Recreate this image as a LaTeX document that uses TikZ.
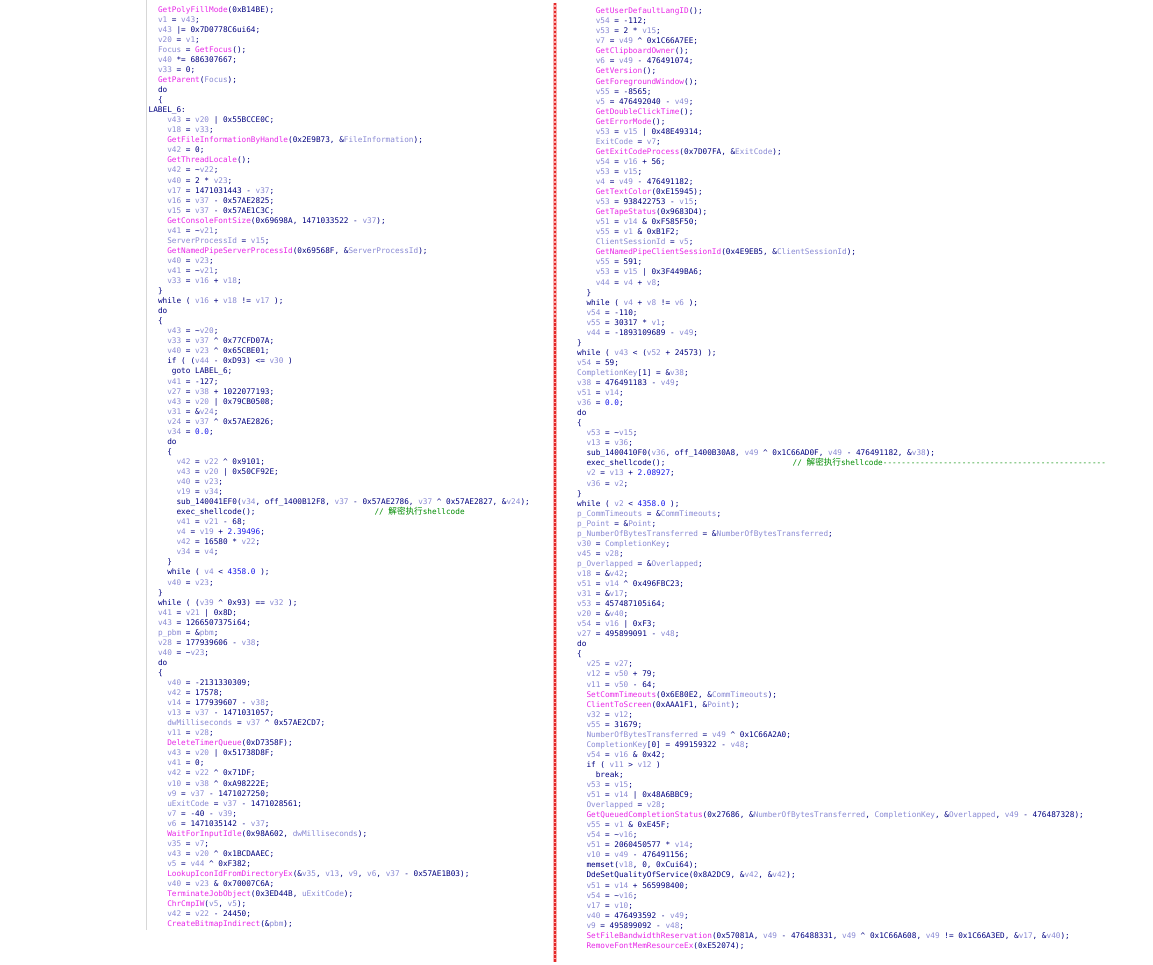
\documentclass[tikz,border=0pt]{standalone}
\usepackage{fontspec}
\setmonofont{DejaVu Sans Mono}
\newfontfamily\cjk{Noto Sans CJK SC}
\usepackage{tikz}
\definecolor{codenavy}{RGB}{0,0,128}
\definecolor{fnpink}{RGB}{232,40,232}
\definecolor{varblue}{RGB}{138,138,212}
\definecolor{fltblue}{RGB}{20,20,235}
\definecolor{cmtgreen}{RGB}{0,140,0}
\definecolor{sepink}{RGB}{250,175,175}
\definecolor{sepred}{RGB}{228,40,40}
\definecolor{bordergray}{RGB}{215,215,215}
\newcommand{\fnc}[1]{\textcolor{fnpink}{#1}}
\newcommand{\lvar}[1]{\textcolor{varblue}{#1}}
\newcommand{\flt}[1]{\textcolor{fltblue}{#1}}
\newcommand{\cmt}[1]{\textcolor{cmtgreen}{#1}}
\newcommand{\xor}{\textasciicircum}
\newcommand{\tld}{\textasciitilde}
\newcommand{\lcode}[3]{\node[codeline] (l#1) at ({148.5+#2*4.65},{10+(#1-1)*10.05}) {#3};}
\newcommand{\rcode}[3]{\node[codeline] (r#1) at ({577+#2*4.65},{11.5+(#1-1)*10.05}) {#3};}
\tikzset{codeline/.style={anchor=mid west, inner sep=0pt, text=codenavy,
  font=\ttfamily\fontsize{7.72}{10}\selectfont}}

\begin{document}
\begin{tikzpicture}[x=1pt,y=-1pt]
\useasboundingbox (0,0) rectangle (1153,965);
\fill [white] (0,0) rectangle (1153,965);
\draw [bordergray, line width=0.8] (146.5,0)--(146.5,930);
\draw [sepink, line width=4.5] (555,3)--(555,962);
\draw [sepred, line width=2, dash pattern=on 2.5 off 1.5] (555,3)--(555,962);

% left window
\lcode{1}{2}{\fnc{GetPolyFillMode}(0xB14BE);}
\lcode{2}{2}{\lvar{v1} = \lvar{v43};}
\lcode{3}{2}{\lvar{v43} |= 0x7D0778C6ui64;}
\lcode{4}{2}{\lvar{v20} = \lvar{v1};}
\lcode{5}{2}{\lvar{Focus} = \fnc{GetFocus}();}
\lcode{6}{2}{\lvar{v40} *= 686307667;}
\lcode{7}{2}{\lvar{v33} = 0;}
\lcode{8}{2}{\fnc{GetParent}(\lvar{Focus});}
\lcode{9}{2}{do}
\lcode{10}{2}{\{}
\lcode{11}{0}{LABEL\_6:}
\lcode{12}{4}{\lvar{v43} = \lvar{v20} | 0x55BCCE0C;}
\lcode{13}{4}{\lvar{v18} = \lvar{v33};}
\lcode{14}{4}{\fnc{GetFileInformationByHandle}(0x2E9B73, \&\lvar{FileInformation});}
\lcode{15}{4}{\lvar{v42} = 0;}
\lcode{16}{4}{\fnc{GetThreadLocale}();}
\lcode{17}{4}{\lvar{v42} = \tld\lvar{v22};}
\lcode{18}{4}{\lvar{v40} = 2 * \lvar{v23};}
\lcode{19}{4}{\lvar{v17} = 1471031443 - \lvar{v37};}
\lcode{20}{4}{\lvar{v16} = \lvar{v37} - 0x57AE2825;}
\lcode{21}{4}{\lvar{v15} = \lvar{v37} - 0x57AE1C3C;}
\lcode{22}{4}{\fnc{GetConsoleFontSize}(0x69698A, 1471033522 - \lvar{v37});}
\lcode{23}{4}{\lvar{v41} = \tld\lvar{v21};}
\lcode{24}{4}{\lvar{ServerProcessId} = \lvar{v15};}
\lcode{25}{4}{\fnc{GetNamedPipeServerProcessId}(0x69568F, \&\lvar{ServerProcessId});}
\lcode{26}{4}{\lvar{v40} = \lvar{v23};}
\lcode{27}{4}{\lvar{v41} = \tld\lvar{v21};}
\lcode{28}{4}{\lvar{v33} = \lvar{v16} + \lvar{v18};}
\lcode{29}{2}{\}}
\lcode{30}{2}{while ( \lvar{v16} + \lvar{v18} != \lvar{v17} );}
\lcode{31}{2}{do}
\lcode{32}{2}{\{}
\lcode{33}{4}{\lvar{v43} = \tld\lvar{v20};}
\lcode{34}{4}{\lvar{v33} = \lvar{v37} \xor{} 0x77CFD07A;}
\lcode{35}{4}{\lvar{v40} = \lvar{v23} \xor{} 0x65CBE01;}
\lcode{36}{4}{if ( (\lvar{v44} - 0xD93) <= \lvar{v30} )}
\lcode{37}{5}{goto LABEL\_6;}
\lcode{38}{4}{\lvar{v41} = -127;}
\lcode{39}{4}{\lvar{v27} = \lvar{v38} + 1022077193;}
\lcode{40}{4}{\lvar{v43} = \lvar{v20} | 0x79CB0508;}
\lcode{41}{4}{\lvar{v31} = \&\lvar{v24};}
\lcode{42}{4}{\lvar{v24} = \lvar{v37} \xor{} 0x57AE2826;}
\lcode{43}{4}{\lvar{v34} = \flt{0.0};}
\lcode{44}{4}{do}
\lcode{45}{4}{\{}
\lcode{46}{6}{\lvar{v42} = \lvar{v22} \xor{} 0x9101;}
\lcode{47}{6}{\lvar{v43} = \lvar{v20} | 0x50CF92E;}
\lcode{48}{6}{\lvar{v40} = \lvar{v23};}
\lcode{49}{6}{\lvar{v19} = \lvar{v34};}
\lcode{50}{6}{sub\_140041EF0(\lvar{v34}, off\_1400B12F8, \lvar{v37} - 0x57AE2786, \lvar{v37} \xor{} 0x57AE2827, \&\lvar{v24});}
\lcode{51}{6}{exec\_shellcode();}
\node [codeline] (lcmt) at (374.3,{10+50*10.05}) {\cmt{// {\cjk\fontsize{8.6}{10}\selectfont 解密执行}shellcode}};
\lcode{52}{6}{\lvar{v41} = \lvar{v21} - 68;}
\lcode{53}{6}{\lvar{v4} = \lvar{v19} + \flt{2.39496};}
\lcode{54}{6}{\lvar{v42} = 16580 * \lvar{v22};}
\lcode{55}{6}{\lvar{v34} = \lvar{v4};}
\lcode{56}{4}{\}}
\lcode{57}{4}{while ( \lvar{v4} < \flt{4358.0} );}
\lcode{58}{4}{\lvar{v40} = \lvar{v23};}
\lcode{59}{2}{\}}
\lcode{60}{2}{while ( (\lvar{v39} \xor{} 0x93) == \lvar{v32} );}
\lcode{61}{2}{\lvar{v41} = \lvar{v21} | 0x8D;}
\lcode{62}{2}{\lvar{v43} = 1266507375i64;}
\lcode{63}{2}{\lvar{p\_pbm} = \&\lvar{pbm};}
\lcode{64}{2}{\lvar{v28} = 177939606 - \lvar{v38};}
\lcode{65}{2}{\lvar{v40} = \tld\lvar{v23};}
\lcode{66}{2}{do}
\lcode{67}{2}{\{}
\lcode{68}{4}{\lvar{v40} = -2131330309;}
\lcode{69}{4}{\lvar{v42} = 17578;}
\lcode{70}{4}{\lvar{v14} = 177939607 - \lvar{v38};}
\lcode{71}{4}{\lvar{v13} = \lvar{v37} - 1471031057;}
\lcode{72}{4}{\lvar{dwMilliseconds} = \lvar{v37} \xor{} 0x57AE2CD7;}
\lcode{73}{4}{\lvar{v11} = \lvar{v28};}
\lcode{74}{4}{\fnc{DeleteTimerQueue}(0xD7358F);}
\lcode{75}{4}{\lvar{v43} = \lvar{v20} | 0x51738D8F;}
\lcode{76}{4}{\lvar{v41} = 0;}
\lcode{77}{4}{\lvar{v42} = \lvar{v22} \xor{} 0x71DF;}
\lcode{78}{4}{\lvar{v10} = \lvar{v38} \xor{} 0xA98222E;}
\lcode{79}{4}{\lvar{v9} = \lvar{v37} - 1471027250;}
\lcode{80}{4}{\lvar{uExitCode} = \lvar{v37} - 1471028561;}
\lcode{81}{4}{\lvar{v7} = -40 - \lvar{v39};}
\lcode{82}{4}{\lvar{v6} = 1471035142 - \lvar{v37};}
\lcode{83}{4}{\fnc{WaitForInputIdle}(0x98A602, \lvar{dwMilliseconds});}
\lcode{84}{4}{\lvar{v35} = \lvar{v7};}
\lcode{85}{4}{\lvar{v43} = \lvar{v20} \xor{} 0x1BCDAAEC;}
\lcode{86}{4}{\lvar{v5} = \lvar{v44} \xor{} 0xF382;}
\lcode{87}{4}{\fnc{LookupIconIdFromDirectoryEx}(\&\lvar{v35}, \lvar{v13}, \lvar{v9}, \lvar{v6}, \lvar{v37} - 0x57AE1B03);}
\lcode{88}{4}{\lvar{v40} = \lvar{v23} \& 0x70007C6A;}
\lcode{89}{4}{\fnc{TerminateJobObject}(0x3ED44B, \lvar{uExitCode});}
\lcode{90}{4}{\fnc{ChrCmpIW}(\lvar{v5}, \lvar{v5});}
\lcode{91}{4}{\lvar{v42} = \lvar{v22} - 24450;}
\lcode{92}{4}{\fnc{CreateBitmapIndirect}(\&\lvar{pbm});}

% right window
\rcode{1}{4}{\fnc{GetUserDefaultLangID}();}
\rcode{2}{4}{\lvar{v54} = -112;}
\rcode{3}{4}{\lvar{v53} = 2 * \lvar{v15};}
\rcode{4}{4}{\lvar{v7} = \lvar{v49} \xor{} 0x1C66A7EE;}
\rcode{5}{4}{\fnc{GetClipboardOwner}();}
\rcode{6}{4}{\lvar{v6} = \lvar{v49} - 476491074;}
\rcode{7}{4}{\fnc{GetVersion}();}
\rcode{8}{4}{\fnc{GetForegroundWindow}();}
\rcode{9}{4}{\lvar{v55} = -8565;}
\rcode{10}{4}{\lvar{v5} = 476492040 - \lvar{v49};}
\rcode{11}{4}{\fnc{GetDoubleClickTime}();}
\rcode{12}{4}{\fnc{GetErrorMode}();}
\rcode{13}{4}{\lvar{v53} = \lvar{v15} | 0x48E49314;}
\rcode{14}{4}{\lvar{ExitCode} = \lvar{v7};}
\rcode{15}{4}{\fnc{GetExitCodeProcess}(0x7D07FA, \&\lvar{ExitCode});}
\rcode{16}{4}{\lvar{v54} = \lvar{v16} + 56;}
\rcode{17}{4}{\lvar{v53} = \lvar{v15};}
\rcode{18}{4}{\lvar{v4} = \lvar{v49} - 476491182;}
\rcode{19}{4}{\fnc{GetTextColor}(0xE15945);}
\rcode{20}{4}{\lvar{v53} = 938422753 - \lvar{v15};}
\rcode{21}{4}{\fnc{GetTapeStatus}(0x9683D4);}
\rcode{22}{4}{\lvar{v51} = \lvar{v14} \& 0xF585F50;}
\rcode{23}{4}{\lvar{v55} = \lvar{v1} \& 0xB1F2;}
\rcode{24}{4}{\lvar{ClientSessionId} = \lvar{v5};}
\rcode{25}{4}{\fnc{GetNamedPipeClientSessionId}(0x4E9EB5, \&\lvar{ClientSessionId});}
\rcode{26}{4}{\lvar{v55} = 591;}
\rcode{27}{4}{\lvar{v53} = \lvar{v15} | 0x3F449BA6;}
\rcode{28}{4}{\lvar{v44} = \lvar{v4} + \lvar{v8};}
\rcode{29}{2}{\}}
\rcode{30}{2}{while ( \lvar{v4} + \lvar{v8} != \lvar{v6} );}
\rcode{31}{2}{\lvar{v54} = -110;}
\rcode{32}{2}{\lvar{v55} = 30317 * \lvar{v1};}
\rcode{33}{2}{\lvar{v44} = -1893109689 - \lvar{v49};}
\rcode{34}{0}{\}}
\rcode{35}{0}{while ( \lvar{v43} < (\lvar{v52} + 24573) );}
\rcode{36}{0}{\lvar{v54} = 59;}
\rcode{37}{0}{\lvar{CompletionKey}[1] = \&\lvar{v38};}
\rcode{38}{0}{\lvar{v38} = 476491183 - \lvar{v49};}
\rcode{39}{0}{\lvar{v51} = \lvar{v14};}
\rcode{40}{0}{\lvar{v36} = \flt{0.0};}
\rcode{41}{0}{do}
\rcode{42}{0}{\{}
\rcode{43}{2}{\lvar{v53} = \tld\lvar{v15};}
\rcode{44}{2}{\lvar{v13} = \lvar{v36};}
\rcode{45}{2}{sub\_1400410F0(\lvar{v36}, off\_1400B30A8, \lvar{v49} \xor{} 0x1C66AD0F, \lvar{v49} - 476491182, \&\lvar{v38});}
\rcode{46}{2}{exec\_shellcode();}
\node [codeline] (rcmt) at (792.5,{11.5+45*10.05}) {\cmt{// {\cjk\fontsize{8.6}{10}\selectfont 解密执行}shellcode------------------------------------------------}};
\rcode{47}{2}{\lvar{v2} = \lvar{v13} + \flt{2.08927};}
\rcode{48}{2}{\lvar{v36} = \lvar{v2};}
\rcode{49}{0}{\}}
\rcode{50}{0}{while ( \lvar{v2} < \flt{4358.0} );}
\rcode{51}{0}{\lvar{p\_CommTimeouts} = \&\lvar{CommTimeouts};}
\rcode{52}{0}{\lvar{p\_Point} = \&\lvar{Point};}
\rcode{53}{0}{\lvar{p\_NumberOfBytesTransferred} = \&\lvar{NumberOfBytesTransferred};}
\rcode{54}{0}{\lvar{v30} = \lvar{CompletionKey};}
\rcode{55}{0}{\lvar{v45} = \lvar{v28};}
\rcode{56}{0}{\lvar{p\_Overlapped} = \&\lvar{Overlapped};}
\rcode{57}{0}{\lvar{v18} = \&\lvar{v42};}
\rcode{58}{0}{\lvar{v51} = \lvar{v14} \xor{} 0x496FBC23;}
\rcode{59}{0}{\lvar{v31} = \&\lvar{v17};}
\rcode{60}{0}{\lvar{v53} = 457487105i64;}
\rcode{61}{0}{\lvar{v20} = \&\lvar{v40};}
\rcode{62}{0}{\lvar{v54} = \lvar{v16} | 0xF3;}
\rcode{63}{0}{\lvar{v27} = 495899091 - \lvar{v48};}
\rcode{64}{0}{do}
\rcode{65}{0}{\{}
\rcode{66}{2}{\lvar{v25} = \lvar{v27};}
\rcode{67}{2}{\lvar{v12} = \lvar{v50} + 79;}
\rcode{68}{2}{\lvar{v11} = \lvar{v50} - 64;}
\rcode{69}{2}{\fnc{SetCommTimeouts}(0x6E80E2, \&\lvar{CommTimeouts});}
\rcode{70}{2}{\fnc{ClientToScreen}(0xAAA1F1, \&\lvar{Point});}
\rcode{71}{2}{\lvar{v32} = \lvar{v12};}
\rcode{72}{2}{\lvar{v55} = 31679;}
\rcode{73}{2}{\lvar{NumberOfBytesTransferred} = \lvar{v49} \xor{} 0x1C66A2A0;}
\rcode{74}{2}{\lvar{CompletionKey}[0] = 499159322 - \lvar{v48};}
\rcode{75}{2}{\lvar{v54} = \lvar{v16} \& 0x42;}
\rcode{76}{2}{if ( \lvar{v11} > \lvar{v12} )}
\rcode{77}{4}{break;}
\rcode{78}{2}{\lvar{v53} = \lvar{v15};}
\rcode{79}{2}{\lvar{v51} = \lvar{v14} | 0x48A6BBC9;}
\rcode{80}{2}{\lvar{Overlapped} = \lvar{v28};}
\rcode{81}{2}{\fnc{GetQueuedCompletionStatus}(0x27686, \&\lvar{NumberOfBytesTransferred}, \lvar{CompletionKey}, \&\lvar{Overlapped}, \lvar{v49} - 476487328);}
\rcode{82}{2}{\lvar{v55} = \lvar{v1} \& 0xE45F;}
\rcode{83}{2}{\lvar{v54} = \tld\lvar{v16};}
\rcode{84}{2}{\lvar{v51} = 2060450577 * \lvar{v14};}
\rcode{85}{2}{\lvar{v10} = \lvar{v49} - 476491156;}
\rcode{86}{2}{memset(\lvar{v18}, 0, 0xCui64);}
\rcode{87}{2}{DdeSetQualityOfService(0x8A2DC9, \&\lvar{v42}, \&\lvar{v42});}
\rcode{88}{2}{\lvar{v51} = \lvar{v14} + 565998400;}
\rcode{89}{2}{\lvar{v54} = \tld\lvar{v16};}
\rcode{90}{2}{\lvar{v17} = \lvar{v10};}
\rcode{91}{2}{\lvar{v40} = 476493592 - \lvar{v49};}
\rcode{92}{2}{\lvar{v9} = 495899092 - \lvar{v48};}
\rcode{93}{2}{\fnc{SetFileBandwidthReservation}(0x57081A, \lvar{v49} - 476488331, \lvar{v49} \xor{} 0x1C66A608, \lvar{v49} != 0x1C66A3ED, \&\lvar{v17}, \&\lvar{v40});}
\rcode{94}{2}{\fnc{RemoveFontMemResourceEx}(0xE52074);}
\end{tikzpicture}
\end{document}
